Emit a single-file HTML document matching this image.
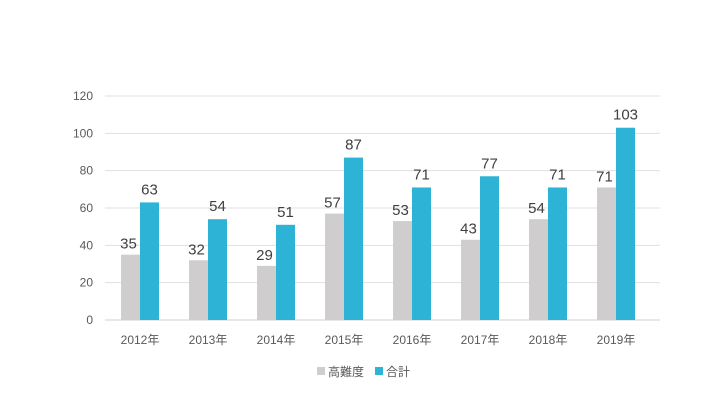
<!DOCTYPE html>
<html><head><meta charset="utf-8"><style>
body{margin:0;background:#fff;}
svg text{font-family:"Liberation Sans","Noto Sans CJK JP",sans-serif;}
</style></head><body>
<svg width="720" height="405" viewBox="0 0 720 405" id="chart">
<rect width="720" height="405" fill="#fff"/>
<g id="grid"></g><g id="bars"></g><g id="labels"></g>
<g>
  <rect x="317" y="367" width="8" height="8" fill="#cfcdcd"/>
  <text x="328" y="376" font-size="12" fill="#595959">高難度</text>
  <rect x="375" y="367" width="8" height="8" fill="#2cb3d5"/>
  <text x="386" y="376" font-size="12" fill="#595959">合計</text>
</g>
</svg>
<script>
const categories=["2012年","2013年","2014年","2015年","2016年","2017年","2018年","2019年"];
const highDifficulty=[35,32,29,57,53,43,54,71];
const total=[63,54,51,87,71,77,71,103];
const yTicks=[0,20,40,60,80,100,120];
const NS="http://www.w3.org/2000/svg";
const x0=106,step=68,yBase=320,yTop=96,yMax=120;
const y=v=>yBase-(v/yMax)*(yBase-yTop);
const xc=i=>x0+step*(i+0.5);
function mk(tag,attrs,parent){const e=document.createElementNS(NS,tag);for(const k in attrs)e.setAttribute(k,attrs[k]);parent.appendChild(e);return e;}
const grid=document.getElementById('grid'),bars=document.getElementById('bars'),labels=document.getElementById('labels');
yTicks.forEach(t=>{
  const l=mk('line',{x1:105,x2:660,y1:y(t),y2:y(t),stroke:t===0?'#d0d0d0':'#e0e0e0','stroke-width':1},grid);
  
  
  const tx=mk('text',{x:93,y:y(t)+4,'text-anchor':'end','font-size':12,fill:'#595959'},grid);
  tx.textContent=t;
  
  
});
const bw=19;
categories.forEach((c,i)=>{
  const cx=xc(i);
  const g=mk('rect',{x:cx-bw,y:y(highDifficulty[i]),width:bw,height:yBase-y(highDifficulty[i]),fill:'#cfcdcd'},bars);
  
  
  const b=mk('rect',{x:cx,y:y(total[i]),width:bw,height:yBase-y(total[i]),fill:'#2cb3d5'},bars);
  
  
  const l1=mk('text',{x:cx-bw/2-2,y:y(highDifficulty[i])-6,'text-anchor':'middle','font-size':15,fill:'#404040'},labels);
  l1.textContent=highDifficulty[i];
  
  
  const l2=mk('text',{x:cx+bw/2,y:y(total[i])-8,'text-anchor':'middle','font-size':15,fill:'#404040'},labels);
  l2.textContent=total[i];
  
  
  const xt=mk('text',{x:cx,y:344,'text-anchor':'middle','font-size':12,fill:'#595959'},labels);
  xt.textContent=c;
  
  
});
</script>
</body></html>
